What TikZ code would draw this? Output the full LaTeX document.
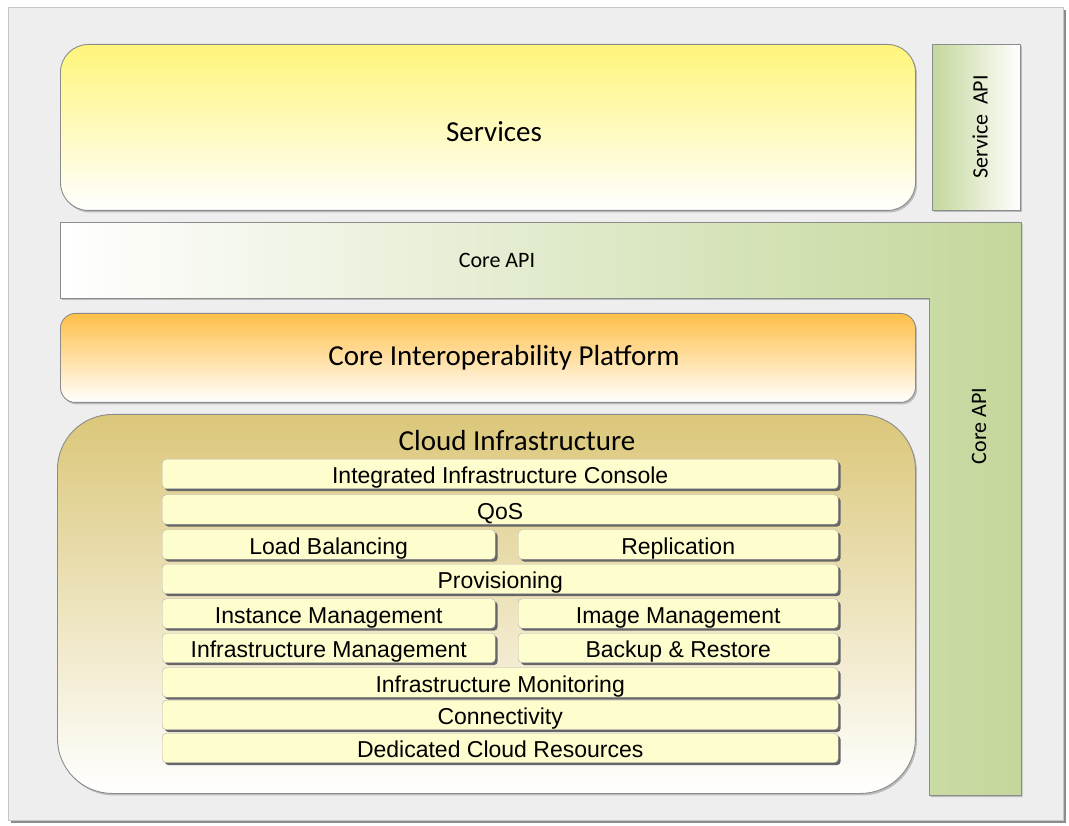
\documentclass[tikz,border=0pt]{standalone}
\usepackage{fontspec}
\setmainfont{Carlito}
\newfontfamily\barfont{Liberation Sans}
\usetikzlibrary{shadows}

\definecolor{framegray}{HTML}{EEEEEE}
\definecolor{servyellow}{HTML}{FFF57A}
\definecolor{apigreen}{HTML}{C4D79B}
\definecolor{coreorange}{HTML}{FFBF47}
\definecolor{cloudtan}{HTML}{DBC77A}
\definecolor{barfill}{HTML}{FEFDCD}
\definecolor{edgegray}{HTML}{8C8C8C}

\tikzset{
  layer/.style={draw=edgegray, line width=0.9pt, anchor=north west, inner sep=0pt},
  boxshadow/.style={drop shadow={shadow xshift=1.5pt, shadow yshift=-2pt, fill=black!40, opacity=0.6}},
  bar/.style={draw=black!30, fill=barfill, rounded corners=4pt, anchor=north west,
    minimum height=29.5pt, inner sep=0pt, text height=20pt, text depth=0pt,
    font=\barfont\fontsize{23}{26}\selectfont,
    drop shadow={shadow xshift=2.5pt, shadow yshift=-2.5pt, fill=black!60, opacity=1}},
  title/.style={font=\fontsize{29}{34}\selectfont},
  apitext/.style={font=\fontsize{22}{26}\selectfont}
}

\begin{document}
\begin{tikzpicture}[x=1pt,y=-1pt]
  \useasboundingbox (0,0) rectangle (1069,826);

  % frame
  \draw[draw=black!22, fill=framegray,
    drop shadow={shadow xshift=3pt, shadow yshift=-3pt, fill=black!45, opacity=1}]
    (8,7) rectangle (1063,820);

  % top row
  \node[layer, boxshadow, rounded corners=28pt, minimum width=855pt, minimum height=166pt,
    top color=servyellow, middle color=servyellow!60!white, bottom color=white] (services) at (60,44) {};
  \node[title] (servicestext) at (494,132) {Services};
  \node[layer, boxshadow, minimum width=88pt, minimum height=166pt,
    left color=apigreen, right color=white] (serviceapi) at (932,44) {};
  \node[apitext, rotate=90] (serviceapitext) at (980,127) {Service~~API};

  % core api
  \shade[draw=edgegray, line width=0.9pt, left color=white, right color=apigreen,
    drop shadow={shadow xshift=1.5pt, shadow yshift=-2pt, fill=black!40, opacity=0.6}]
    (60,222) -- (1021,222) -- (1021,795) -- (929,795) -- (929,298) -- (60,298) -- cycle;
  \node[apitext] (coreapi) at (497,260) {Core API};
  \node[apitext, rotate=90] (coreapiside) at (979,426) {Core API};

  % platform
  \node[layer, boxshadow, rounded corners=15pt, minimum width=855pt, minimum height=89pt,
    top color=coreorange, middle color=coreorange!50!white, bottom color=white] (platform) at (60,313) {};
  \node[title] (platformtext) at (504,358) {Core Interoperability Platform};

  % cloud infrastructure
  \node[layer, boxshadow, rounded corners=55pt, minimum width=858pt, minimum height=379pt,
    top color=cloudtan, middle color=cloudtan!55!white, bottom color=white] (cloud) at (57,414) {};
  \node[title] (cloudtext) at (517,441) {Cloud Infrastructure};

  \node[bar, minimum width=676pt] (console) at (162,459) {Integrated Infrastructure Console};
  \node[bar, minimum width=676pt] (qos) at (162,494.5) {QoS};
  \node[bar, minimum width=333pt] (balancing) at (162,529.5) {Load Balancing};
  \node[bar, minimum width=320pt] (replication) at (518,529.5) {Replication};
  \node[bar, minimum width=676pt] (provisioning) at (162,564) {Provisioning};
  \node[bar, minimum width=333pt] (instance) at (162,598.5) {Instance Management};
  \node[bar, minimum width=320pt] (image) at (518,598.5) {Image Management};
  \node[bar, minimum width=333pt] (inframgmt) at (162,633) {Infrastructure Management};
  \node[bar, minimum width=320pt] (backup) at (518,633) {Backup \& Restore};
  \node[bar, minimum width=676pt] (monitoring) at (162,667.5) {Infrastructure Monitoring};
  \node[bar, minimum width=676pt] (connectivity) at (162,700) {Connectivity};
  \node[bar, minimum width=676pt] (resources) at (162,733) {Dedicated Cloud Resources};
\end{tikzpicture}
\end{document}
